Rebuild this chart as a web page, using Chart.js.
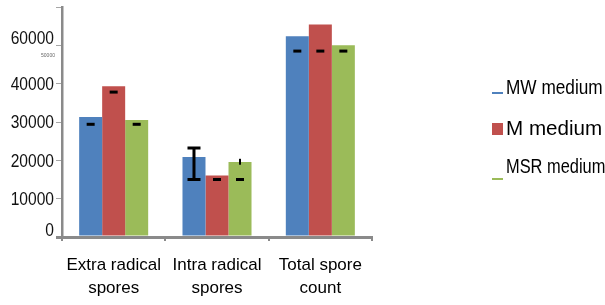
<!DOCTYPE html>
<html>
<head>
<meta charset="utf-8">
<script src="https://cdn.jsdelivr.net/npm/chart.js@4/dist/chart.umd.min.js"></script>
<style>
  html, body { margin: 0; padding: 0; background: #fff; }
  #c { display: block; }
</style>
</head>
<body>
<canvas id="c" width="605" height="305"></canvas>
<script>
/* Spore counts per medium */
const categories = [['Extra radical', 'spores'], ['Intra radical', 'spores'], ['Total spore', 'count']];
const seriesNames = ['MW medium', 'M medium', 'MSR medium'];
const mwValues  = [31300, 20900, 52400];
const mValues   = [39350, 16050, 55450];
const msrValues = [30500, 19550, 50050];

/* Error bar ends (low == high draws only a cap) */
const mwErrLow   = [29400, 15000, 48500];
const mwErrHigh  = [29400, 23200, 48500];
const mErrLow    = [37800, 15000, 48500];
const mErrHigh   = [37800, 15000, 48500];
const msrErrLow  = [29400, 15000, 48500];
const msrErrHigh = [29400, 15000, 48500];
/* stray whisker stub drawn on the MSR bar of the middle group */
const msrStubLow  = [null, 18850, null];
const msrStubHigh = [null, 20400, null];

/* Y axis: tick values and the (odd) labels printed beside them */
const yTickValues = [0, 10000, 20000, 30000, 40000, 50000];
const yTickLabels = ['0', '10000', '20000', '30000', '40000', '60000'];
const ySmallLabel = '50000';

const COLORS = ['#4f81bd', '#c0504d', '#9bbb59'];
const AXIS_GREY = '#8a8a8a';
const REGULAR = '"Liberation Sans", Arial, sans-serif';

const errLow  = [mwErrLow, mErrLow, msrErrLow];
const errHigh = [mwErrHigh, mErrHigh, msrErrHigh];

/* No narrow face installed: squeeze Liberation Sans horizontally instead */
function fillSqueezed(ctx, text, x, y, sx) {
  ctx.save();
  ctx.translate(x, y);
  ctx.scale(sx, 1);
  ctx.fillText(text, 0, 0);
  ctx.restore();
}

/* Draws error bars, y labels and the legend on top of the bars */
const decorPlugin = {
  id: 'decor',
  afterDatasetsDraw(chart) {
    const ctx = chart.ctx;
    const y = chart.scales.y;
    ctx.save();
    ctx.strokeStyle = '#000';
    ctx.lineCap = 'butt';

    /* ── error bars ── */
    errLow.forEach((lows, ds) => {
      const meta = chart.getDatasetMeta(ds);
      lows.forEach((lo, i) => {
        const x = meta.data[i].x;
        const hi = errHigh[ds][i];
        const yl = y.getPixelForValue(lo);
        const yh = y.getPixelForValue(hi);
        const capW = hi > lo ? 13 : 8;
        ctx.lineWidth = 3;
        ctx.beginPath();
        ctx.moveTo(x - capW / 2, yl); ctx.lineTo(x + capW / 2, yl);
        if (hi > lo) {
          ctx.moveTo(x, yl); ctx.lineTo(x, yh);
          ctx.moveTo(x - capW / 2, yh); ctx.lineTo(x + capW / 2, yh);
        }
        ctx.stroke();
      });
    });
    const msrMeta = chart.getDatasetMeta(2);
    msrStubLow.forEach((lo, i) => {
      if (lo === null) return;
      const x = msrMeta.data[i].x;
      ctx.lineWidth = 2;
      ctx.beginPath();
      ctx.moveTo(x, y.getPixelForValue(lo));
      ctx.lineTo(x, y.getPixelForValue(msrStubHigh[i]));
      ctx.stroke();
    });

    /* ── y tick labels ── */
    ctx.fillStyle = '#111';
    ctx.textAlign = 'right';
    ctx.textBaseline = 'middle';
    ctx.font = '19px ' + REGULAR;
    yTickValues.forEach((v, i) => {
      let py = y.getPixelForValue(v);
      if (v === 0) py -= 7;          // "0" sits above its tick
      if (v === 50000) py -= 8;      // "60000" printed above the 50000 tick
      fillSqueezed(ctx, yTickLabels[i], 54, py + 1, 0.82);
    });
    ctx.fillStyle = '#666';
    ctx.textAlign = 'center';
    ctx.font = '5px ' + REGULAR;
    ctx.fillText(ySmallLabel, 48, y.getPixelForValue(50000) + 10);

    /* ── legend ── */
    ctx.textAlign = 'left';
    ctx.textBaseline = 'alphabetic';
    // MW medium: thin line marker
    ctx.fillStyle = COLORS[0];
    ctx.fillRect(492, 92, 11, 2);
    ctx.fillStyle = '#000';
    ctx.font = '21px ' + REGULAR;
    fillSqueezed(ctx, seriesNames[0], 506, 94, 0.82);
    // M medium: square marker
    ctx.fillStyle = COLORS[1];
    ctx.fillRect(492, 123, 11, 12);
    ctx.fillStyle = '#000';
    ctx.font = '20px ' + REGULAR;
    fillSqueezed(ctx, seriesNames[1], 506, 135, 1.03);
    // MSR medium: line marker below text
    ctx.fillStyle = COLORS[2];
    ctx.fillRect(492, 178, 11, 2);
    ctx.fillStyle = '#000';
    ctx.font = '20px ' + REGULAR;
    fillSqueezed(ctx, seriesNames[2], 506, 173, 0.82);

    ctx.restore();
  }
};

new Chart(document.getElementById('c'), {
  type: 'bar',
  data: {
    labels: categories,
    datasets: [mwValues, mValues, msrValues].map((vals, i) => ({
      label: seriesNames[i],
      data: vals,
      backgroundColor: COLORS[i],
      borderWidth: 0,
      barPercentage: 1,
      categoryPercentage: 0.668,
    })),
  },
  options: {
    responsive: false,
    animation: false,
    layout: { padding: { left: 0, right: 233, top: 7, bottom: 0 } },
    plugins: {
      legend: { display: false },
      tooltip: { enabled: false },
    },
    scales: {
      x: {
        grid: {
          drawOnChartArea: false,
          drawTicks: true,
          tickLength: 4,
          color: AXIS_GREY,
          lineWidth: 2,
        },
        border: { color: AXIS_GREY, width: 3 },
        ticks: {
          color: '#000',
          font: { family: REGULAR, size: 17, lineHeight: 1.4 },
          padding: 12,
          maxRotation: 0,
          autoSkip: false,
        },
        afterFit: s => { s.height = 68; },
      },
      y: {
        min: 0,
        max: 60000,
        ticks: { stepSize: 10000, display: false },
        grid: {
          drawOnChartArea: false,
          drawTicks: true,
          tickLength: 6,
          /* the zero tick continues the x axis line to the left */
          color: c => (c.tick && c.tick.value === 0 ? AXIS_GREY : '#a6a6a6'),
          lineWidth: c => (c.tick && c.tick.value === 0 ? 3 : 1),
        },
        border: { color: AXIS_GREY, width: 2.5 },
        afterFit: s => { s.width = 62; },
      },
    },
  },
  plugins: [decorPlugin],
});
</script>
</body>
</html>
